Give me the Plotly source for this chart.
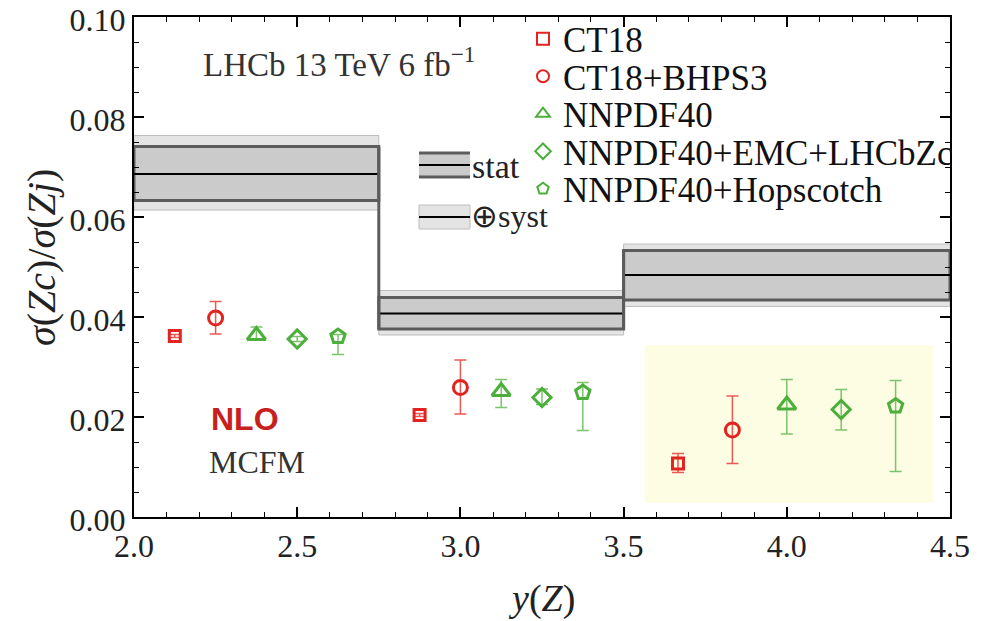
import plotly.graph_objects as go

# ---------------- data ----------------
bin_lo = [2.0, 2.75, 3.5]
bin_hi = [2.75, 3.5, 4.5]
data_central = [0.0686, 0.0407, 0.0484]
stat_lo = [0.0633, 0.0376, 0.0434]
stat_hi = [0.0741, 0.0439, 0.0533]
syst_lo = [0.0614, 0.0364, 0.0421]
syst_hi = [0.0763, 0.0453, 0.0546]

series_names = ["CT18", "CT18+BHPS3", "NNPDF40", "NNPDF40+EMC+LHCbZc", "NNPDF40+Hopscotch"]
ct18 = [0.0362, 0.0204, 0.0107]
ct18_up = [0.0003, 0.0003, 0.0020]
ct18_dn = [0.0003, 0.0003, 0.0018]
bhps3 = [0.0398, 0.0259, 0.0174]
bhps3_up = [0.0033, 0.0055, 0.0068]
bhps3_dn = [0.0032, 0.0053, 0.0067]
nnpdf = [0.0363, 0.0251, 0.0224]
nnpdf_up = [0.0017, 0.0024, 0.0051]
nnpdf_dn = [0.0008, 0.0032, 0.0058]
emc = [0.0356, 0.0239, 0.0215]
emc_up = [0.0005, 0.0017, 0.0040]
emc_dn = [0.0005, 0.0014, 0.0041]
hop = [0.0361, 0.0249, 0.0222]
hop_up = [0.0004, 0.0020, 0.0051]
hop_dn = [0.0036, 0.0076, 0.0131]

y_ticks = [0.00, 0.02, 0.04, 0.06, 0.08, 0.10]
x_ticks = [2.0, 2.5, 3.0, 3.5, 4.0, 4.5]

# ---------------- layout constants ----------------
W, H = 989, 621
OFF = 8  # page body margin
# target plot box on screen: x 134..950, y 17..517
ML, MR, MT, MB = 134 - OFF, 39 + OFF, 17 - OFF, 104 + OFF
PW, PH = W - ML - MR, H - MT - MB
SERIF = "Liberation Serif"


def px(xs):
    return (xs - OFF - ML) / PW


def py(ys):
    return (H - MB - (ys - OFF)) / PH


RED = "#e2231f"
RED_E = "#ea5a55"
GRN = "#4caf3c"
GRN_E = "#7cc46c"

styles = [
    dict(symbol="square-open", size=11, color=RED, ecol=RED_E),
    dict(symbol="circle-open", size=14, color=RED, ecol=RED_E),
    dict(symbol="triangle-up-open", size=16, color=GRN, ecol=GRN_E),
    dict(symbol="diamond-open", size=14, color=GRN, ecol=GRN_E),
    dict(symbol="pentagon-open", size=15, color=GRN, ecol=GRN_E),
]
vals = [ct18, bhps3, nnpdf, emc, hop]
ups = [ct18_up, bhps3_up, nnpdf_up, emc_up, hop_up]
dns = [ct18_dn, bhps3_dn, nnpdf_dn, emc_dn, hop_dn]

fig = go.Figure()

legend_names = ["legend", "legend2", "legend3", "legend4", "legend5"]
row_y = [39, 76.5, 114, 151.5, 189]

for k in range(5):
    xs = []
    for b in range(3):
        step = (bin_hi[b] - bin_lo[b]) / 6
        xs.append(bin_lo[b] + (k + 1) * step)
    st = styles[k]
    fig.add_trace(go.Scatter(
        x=xs, y=vals[k], mode="markers", name=series_names[k],
        marker=dict(symbol=st["symbol"], size=st["size"], color=st["color"],
                    line=dict(color=st["color"], width=3)),
        error_y=dict(type="data", array=ups[k], arrayminus=dns[k],
                     color=st["ecol"], thickness=1.5, width=6),
        legend=legend_names[k], showlegend=True,
    ))

# empty trace that registers the top/right frame axes
fig.add_trace(go.Scatter(x=[None], y=[None], xaxis="x2", yaxis="y2", mode="markers",
                         showlegend=False, hoverinfo="skip"))

shapes = []
# highlight box (behind)
shapes.append(dict(type="rect", xref="x", yref="y", x0=3.564, x1=4.449, y0=0.0028, y1=0.0344,
                   fillcolor="#fdfde4", line=dict(width=0), layer="below"))
for b in range(3):
    shapes.append(dict(type="rect", xref="x", yref="y", x0=bin_lo[b], x1=bin_hi[b],
                       y0=syst_lo[b], y1=syst_hi[b], fillcolor="#e4e4e4",
                       line=dict(color="#bdbdbd", width=1), layer="below"))
    shapes.append(dict(type="rect", xref="x", yref="y", x0=bin_lo[b], x1=bin_hi[b],
                       y0=stat_lo[b], y1=stat_hi[b], fillcolor="#cbcbcb",
                       line=dict(color="#5c5c5c", width=3), layer="below"))
    shapes.append(dict(type="line", xref="x", yref="y", x0=bin_lo[b], x1=bin_hi[b],
                       y0=data_central[b], y1=data_central[b],
                       line=dict(color="black", width=2), layer="below"))
for b in range(2):
    shapes.append(dict(type="line", xref="x", yref="y", x0=bin_hi[b], x1=bin_hi[b],
                       y0=min(stat_lo[b], stat_lo[b + 1]), y1=max(stat_hi[b], stat_hi[b + 1]),
                       line=dict(color="#5c5c5c", width=3), layer="below"))

# band legend glyphs
shapes.append(dict(type="rect", xref="paper", yref="paper", x0=px(419), x1=px(470),
                   y0=py(177), y1=py(153), fillcolor="#cbcbcb", line=dict(width=0)))
for yy in (153, 177):
    shapes.append(dict(type="line", xref="paper", yref="paper", x0=px(419), x1=px(470),
                       y0=py(yy), y1=py(yy), line=dict(color="#5c5c5c", width=3)))
shapes.append(dict(type="line", xref="paper", yref="paper", x0=px(419), x1=px(470),
                   y0=py(165), y1=py(165), line=dict(color="black", width=2)))
shapes.append(dict(type="rect", xref="paper", yref="paper", x0=px(419), x1=px(470),
                   y0=py(229), y1=py(205), fillcolor="#e4e4e4", line=dict(color="#bdbdbd", width=1)))
shapes.append(dict(type="line", xref="paper", yref="paper", x0=px(419), x1=px(470),
                   y0=py(217), y1=py(217), line=dict(color="black", width=2)))

annotations = [
    dict(text="stat", x=px(470), y=py(166), xref="paper", yref="paper", xanchor="left",
         yanchor="middle", showarrow=False, font=dict(family=SERIF, size=34, color="#222")),
    dict(text="⊕syst", x=px(469), y=py(216), xref="paper", yref="paper", xanchor="left",
         yanchor="middle", showarrow=False, font=dict(family=SERIF, size=32, color="#222")),
    dict(text="LHCb 13 TeV 6 fb<sup>−1</sup>", x=px(201), y=py(62), xref="paper", yref="paper",
         xanchor="left", yanchor="middle", showarrow=False,
         font=dict(family=SERIF, size=33, color="#333")),
    dict(text="<b>NLO</b>", x=px(209), y=py(419), xref="paper", yref="paper",
         xanchor="left", yanchor="middle", showarrow=False,
         font=dict(family="Liberation Sans", size=32, color="#c8201e")),
    dict(text="MCFM", x=px(207), y=py(462), xref="paper", yref="paper",
         xanchor="left", yanchor="middle", showarrow=False,
         font=dict(family=SERIF, size=32, color="#333")),
    dict(text="<i>σ</i>(<i>Zc</i>)/<i>σ</i>(<i>Zj</i>)", x=px(41), y=py(258), xref="paper",
         yref="paper", xanchor="center", yanchor="middle", textangle=-90, showarrow=False,
         font=dict(family=SERIF, size=40, color="#222")),
    dict(text="<i>y</i>(<i>Z</i>)", x=px(541), y=py(598), xref="paper", yref="paper",
         xanchor="center", yanchor="middle", showarrow=False,
         font=dict(family=SERIF, size=38, color="#222")),
]

legend_layouts = {}
for k, ln in enumerate(legend_names):
    legend_layouts[ln] = dict(
        x=px(523), y=py(row_y[k]), xanchor="left", yanchor="middle",
        bgcolor="rgba(255,255,255,0)", borderwidth=0,
        font=dict(family=SERIF, size=35, color="#111"),
        itemsizing="constant", tracegroupgap=0,
    )

axis_common = dict(
    showline=True, linewidth=2, linecolor="black", mirror=False,
    ticks="inside", ticklen=10, tickwidth=1.5, tickcolor="black",
    showgrid=False, zeroline=False, automargin=False, ticklabeloverflow="allow",
    tickfont=dict(family=SERIF, size=32, color="#222"),
)
x_minor = dict(dtick=0.1, ticks="inside", ticklen=5, tickcolor="black", tickwidth=1)
y_minor = dict(dtick=0.005, ticks="inside", ticklen=5, tickcolor="black", tickwidth=1)

fig.update_layout(
    width=W, height=H,
    margin=dict(l=ML, r=MR, t=MT, b=MB, autoexpand=False),
    plot_bgcolor="white", paper_bgcolor="white",
    shapes=shapes, annotations=annotations,
    xaxis=dict(range=[2.0, 4.5], tickvals=x_ticks, ticktext=[f"{v:.1f}" for v in x_ticks],
               minor=x_minor, **axis_common),
    yaxis=dict(range=[0.0, 0.10], tickvals=y_ticks, ticktext=[f"{v:.2f}" for v in y_ticks],
               ticklabelshift=3, minor=y_minor, **axis_common),
    # top and right frame edges as real axes with inside ticks, no labels
    xaxis2=dict(range=[2.0, 4.5], overlaying="x", side="top", anchor="y2",
                tickvals=x_ticks, showticklabels=False, minor=x_minor, **axis_common),
    yaxis2=dict(range=[0.0, 0.10], overlaying="y", side="right", anchor="x2",
                tickvals=y_ticks, showticklabels=False, minor=y_minor, **axis_common),
    **legend_layouts,
)

fig.write_html("out.html")
